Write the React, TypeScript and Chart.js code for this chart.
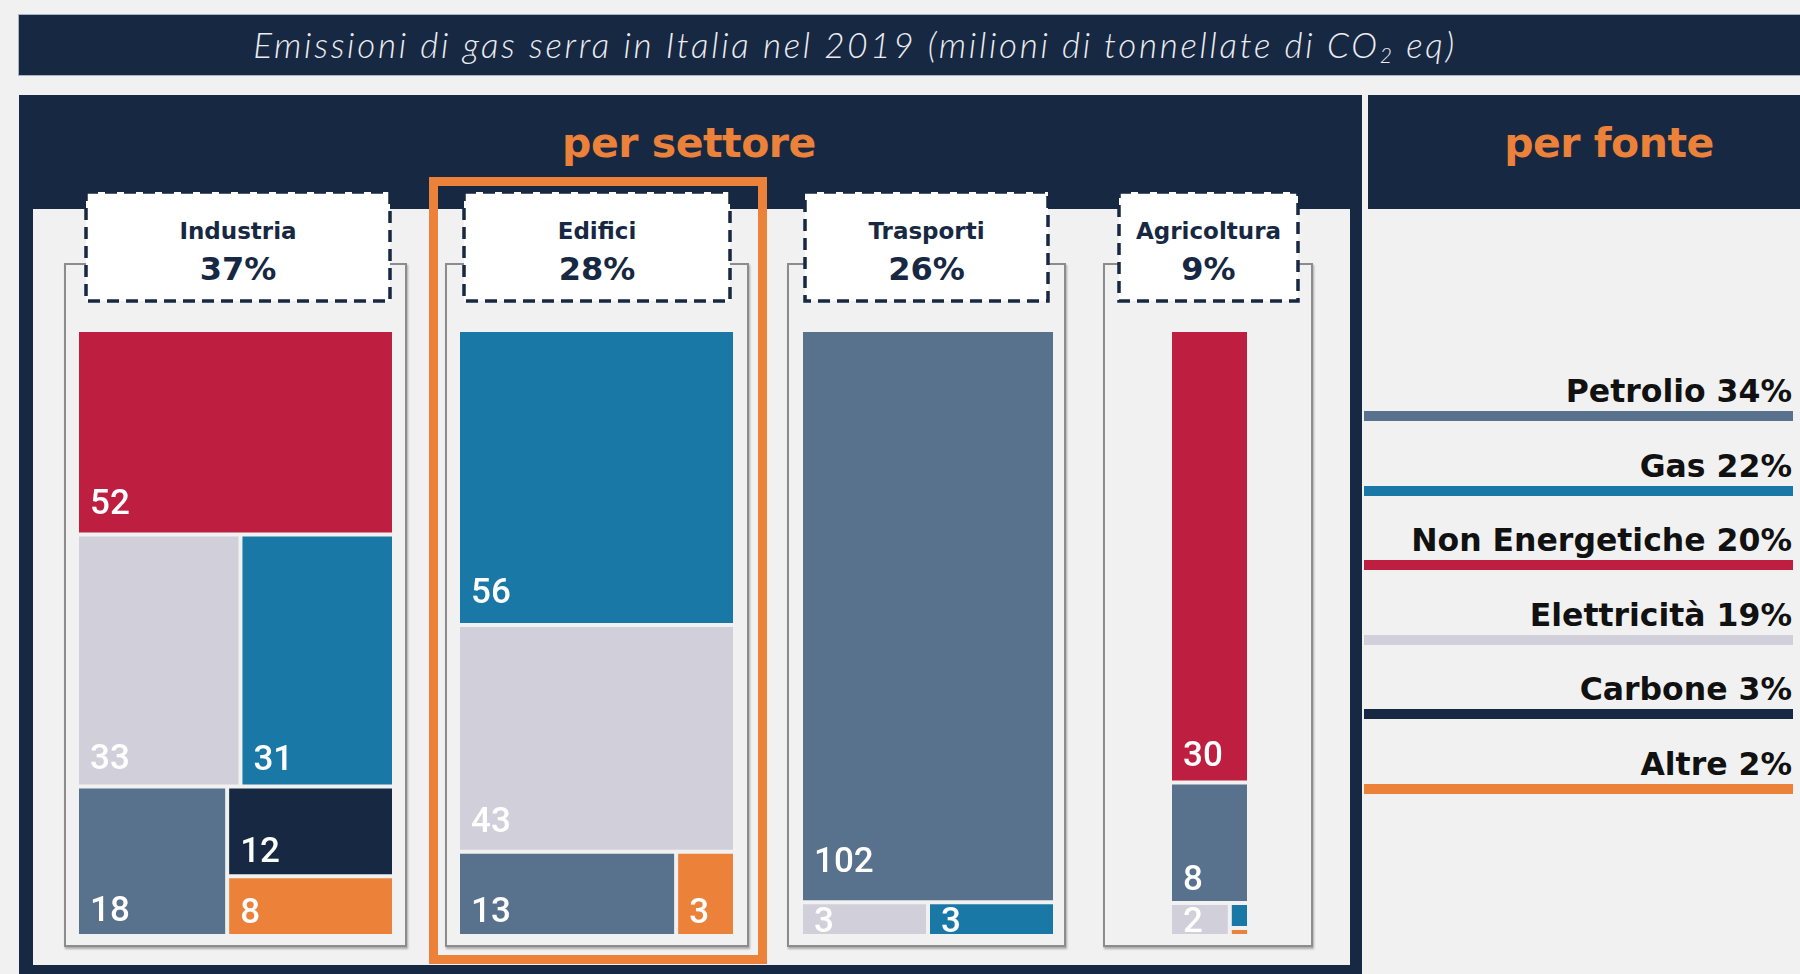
import React, { useEffect, useRef } from 'react';
import { Chart, registerables, BarController } from 'chart.js';

Chart.register(...registerables);

// ---------------- DATA ----------------
const TITLE_MAIN = 'Emissioni di gas serra in Italia nel 2019 (milioni di tonnellate di CO';
const TITLE_SUB = '2';
const TITLE_END = ' eq)';
const HEADER_LEFT = 'per settore';
const HEADER_RIGHT = 'per fonte';

const SOURCE_NAMES = ['Petrolio', 'Gas', 'Non Energetiche', 'Elettricità', 'Carbone', 'Altre'];
const SOURCE_SHARES = [34, 22, 20, 19, 3, 2];

const SECTOR_NAMES = ['Industria', 'Edifici', 'Trasporti', 'Agricoltura'];
const SECTOR_SHARES = [37, 28, 26, 9];

const INDUSTRIA_VALUES = [52, 33, 31, 18, 12, 8];
const INDUSTRIA_SOURCES = ['Non Energetiche', 'Elettricità', 'Gas', 'Petrolio', 'Carbone', 'Altre'];

const EDIFICI_VALUES = [56, 43, 12.6, 3.4];
const EDIFICI_SOURCES = ['Gas', 'Elettricità', 'Petrolio', 'Altre'];

const TRASPORTI_VALUES = [102, 3, 3];
const TRASPORTI_SOURCES = ['Petrolio', 'Elettricità', 'Gas'];

const AGRICOLTURA_VALUES = [30, 8, 1.65, 0.4, 0.13];
const AGRICOLTURA_SOURCES = ['Non Energetiche', 'Petrolio', 'Elettricità', 'Gas', 'Altre'];

// treemap nesting (structure only: rows stacked, then columns side by side, alternating)
const INDUSTRIA_TREE = [0, [1, 2], [3, [4, 5]]];
const EDIFICI_TREE = [0, 1, [2, 3]];
const TRASPORTI_TREE = [0, [1, 2]];
const AGRICOLTURA_TREE = [0, 1, [2, [3, 4]]];

// ---------------- STYLE ----------------
const BG = '#f1f1f1';
const NAVY = '#172843';
const ORANGE = '#ec823a';
const SOURCE_COLORS: Record<string, string> = {
  Petrolio: '#58718c',
  Gas: '#1a78a6',
  'Non Energetiche': '#be1e40',
  'Elettricità': '#d0cfda',
  Carbone: '#172843',
  Altre: '#ec823a',
};
const BORDER = 2;

// panel geometry [left, top, right, bottom]
const PANELS = [
  { frame: [64, 263, 407, 947], tag: [86, 192, 390, 301], plot: [77, 330, 394, 936] },
  { frame: [445, 263, 749, 947], tag: [464, 192, 730, 301], plot: [458, 330, 735, 936] },
  { frame: [787, 263, 1066, 947], tag: [805, 192, 1048, 301], plot: [801, 330, 1055, 936] },
  { frame: [1103, 263, 1313, 947], tag: [1119, 192, 1298, 301], plot: [1170, 330, 1249, 936] },
];

// ---------------- TREEMAP CONTROLLER ----------------
type TreeNode = number | TreeNode[];

function nodeSum(node: TreeNode, values: number[]): number {
  return typeof node === 'number' ? values[node] : node.reduce((s: number, n) => s + nodeSum(n, values), 0);
}

function sliceDice(node: TreeNode, values: number[], x0: number, x1: number, y0: number, y1: number, vertical: boolean, out: any[]) {
  if (typeof node === 'number') {
    out[node] = { x0, x1, y0, y1 };
    return;
  }
  const sums = node.map((n) => nodeSum(n, values));
  const total = sums.reduce((a, b) => a + b, 0);
  let pos = vertical ? y0 : x0;
  node.forEach((child, k) => {
    const span = ((vertical ? y1 - y0 : x1 - x0) * sums[k]) / total;
    if (vertical) sliceDice(child, values, x0, x1, pos, pos + span, false, out);
    else sliceDice(child, values, pos, pos + span, y0, y1, true, out);
    pos += span;
  });
}

class TreemapController extends (BarController as any) {
  static id = 'slicetree';
  updateElements(rects: any[], start: number, count: number, mode: any) {
    const meta = (this as any)._cachedMeta;
    const xScale = meta.xScale;
    const yScale = meta.yScale;
    const ds = (this as any).getDataset();
    const values: number[] = ds.data;
    const total = values.reduce((a, b) => a + b, 0);
    const cells: any[] = [];
    sliceDice(ds.tree, values, 0, 1, 0, total, true, cells);
    for (let i = start; i < start + count; i++) {
      const c = cells[i];
      const left = xScale.getPixelForValue(c.x0);
      const right = xScale.getPixelForValue(c.x1);
      const top = yScale.getPixelForValue(c.y0);
      const bottom = yScale.getPixelForValue(c.y1);
      (this as any).updateElement(
        rects[i],
        i,
        {
          horizontal: false,
          x: (left + right) / 2,
          y: Math.min(top, bottom),
          base: Math.max(top, bottom),
          width: Math.abs(right - left),
          height: Math.abs(bottom - top),
          inflateAmount: 0,
          borderSkipped: {},
          options: (this as any).resolveDataElementOptions(i, mode),
        },
        mode
      );
    }
  }
}
Chart.register(TreemapController as any);

const cellLabelPlugin = {
  id: 'cellLabels',
  afterDatasetsDraw(chart: any) {
    const ctx = chart.ctx;
    chart.data.datasets.forEach((ds: any, di: number) => {
      const meta = chart.getDatasetMeta(di);
      meta.data.forEach((el: any, i: number) => {
        const left = el.x - el.width / 2 + BORDER;
        const w = el.width - 2 * BORDER;
        const top = el.y + BORDER;
        const bottom = el.base - BORDER;
        const h = bottom - top;
        if (w < 30 || h < 22) return;
        const cap = 25;
        const pad = Math.min(10 + 0.00013 * w * h, Math.max(0, (h - cap) / 2));
        ctx.save();
        ctx.font = '500 35px Roboto';
        ctx.fillStyle = '#ffffff';
        ctx.textBaseline = 'alphabetic';
        ctx.textAlign = 'left';
        ctx.fillText(String(Math.round(ds.data[i])), left + 11, bottom - pad);
        ctx.restore();
      });
    });
  },
};

function TreemapCanvas({ values, sources, tree, plot }: { values: number[]; sources: string[]; tree: TreeNode[]; plot: number[] }) {
  const ref = useRef<HTMLCanvasElement>(null);
  const w = plot[2] - plot[0];
  const h = plot[3] - plot[1];
  useEffect(() => {
    const canvas = ref.current;
    if (!canvas) return;
    const total = values.reduce((a, b) => a + b, 0);
    const chart = new Chart(canvas as any, {
      type: 'slicetree' as any,
      data: {
        labels: values.map((_, i) => i),
        datasets: [
          {
            data: values,
            tree,
            backgroundColor: sources.map((s) => SOURCE_COLORS[s]),
            borderColor: BG,
            borderWidth: BORDER,
            borderSkipped: false,
            inflateAmount: 0,
          } as any,
        ],
      },
      options: {
        animation: false,
        responsive: false,
        maintainAspectRatio: false,
        events: [],
        layout: { padding: 0 },
        plugins: { legend: { display: false }, tooltip: { enabled: false }, title: { display: false } },
        scales: {
          x: { type: 'linear', display: false, min: 0, max: 1, offset: false, grid: { offset: false } },
          y: { type: 'linear', display: false, min: 0, max: total, reverse: true },
        },
      } as any,
      plugins: [cellLabelPlugin],
    });
    return () => chart.destroy();
  }, []);
  return (
    <canvas
      ref={ref}
      width={w}
      height={h}
      style={{ position: 'absolute', left: plot[0], top: plot[1], width: w, height: h }}
    />
  );
}

const ALL_VALUES = [INDUSTRIA_VALUES, EDIFICI_VALUES, TRASPORTI_VALUES, AGRICOLTURA_VALUES];
const ALL_SOURCES = [INDUSTRIA_SOURCES, EDIFICI_SOURCES, TRASPORTI_SOURCES, AGRICOLTURA_SOURCES];
const ALL_TREES = [INDUSTRIA_TREE, EDIFICI_TREE, TRASPORTI_TREE, AGRICOLTURA_TREE];

const abs = (l: number, t: number, w: number, h: number): React.CSSProperties => ({
  position: 'absolute',
  left: l,
  top: t,
  width: w,
  height: h,
});

export default function App() {
  return (
    <div style={{ ...abs(0, 0, 1800, 974), background: BG, overflow: 'hidden', fontFamily: '"Open Sans", sans-serif' }}>
      {/* title bar */}
      <div style={{ ...abs(19, 15, 1781, 60), background: NAVY, boxShadow: '0 0 0 1px #aab3c0' }} />
      <div
        style={{
          ...abs(0, 14, 1710, 60),
          lineHeight: '60px',
          textAlign: 'center',
          color: '#ececf0',
          fontStyle: 'italic',
          fontWeight: 300,
          fontSize: 35,
          letterSpacing: 2.7,
          fontFamily: 'Lato, "Open Sans", sans-serif',
          whiteSpace: 'nowrap',
        }}
      >
        {TITLE_MAIN}
        <sub style={{ fontSize: '60%', verticalAlign: '-0.25em' }}>{TITLE_SUB}</sub>
        {TITLE_END}
      </div>

      {/* left dark panel */}
      <div style={{ ...abs(19, 95, 1343, 879), background: NAVY }} />
      <div style={{ ...abs(33, 209, 1317, 756), background: BG }} />
      {/* right header */}
      <div style={{ ...abs(1368, 95, 432, 114), background: NAVY }} />

      <div
        style={{
          ...abs(19, 113, 1340, 60),
          textAlign: 'center',
          color: ORANGE,
          fontFamily: '"DejaVu Sans", sans-serif',
          fontWeight: 700,
          fontSize: 41,
          letterSpacing: -0.5,
          lineHeight: '60px',
        }}
      >
        {HEADER_LEFT}
      </div>
      <div
        style={{
          ...abs(1409, 113, 400, 60),
          textAlign: 'center',
          color: ORANGE,
          fontFamily: '"DejaVu Sans", sans-serif',
          fontWeight: 700,
          fontSize: 41,
          letterSpacing: -0.5,
          lineHeight: '60px',
        }}
      >
        {HEADER_RIGHT}
      </div>

      {/* sector frames */}
      {PANELS.map((p, i) => (
        <div
          key={'f' + i}
          style={{
            ...abs(p.frame[0], p.frame[1], p.frame[2] - p.frame[0], p.frame[3] - p.frame[1]),
            boxSizing: 'border-box',
            border: '2px solid #8c8c8c',
            boxShadow: '1px 2px 2px rgba(0,0,0,0.3)',
          }}
        />
      ))}

      {/* treemaps */}
      {PANELS.map((p, i) => (
        <TreemapCanvas key={'t' + i} values={ALL_VALUES[i]} sources={ALL_SOURCES[i]} tree={ALL_TREES[i]} plot={p.plot} />
      ))}

      {/* dashed tags */}
      {PANELS.map((p, i) => {
        const [l, t, r, b] = p.tag;
        const w = r - l;
        const h = b - t;
        return (
          <div key={'g' + i} style={abs(l - 3, t - 3, w + 6, h + 6)}>
            <svg width={w + 6} height={h + 6} style={{ position: 'absolute', left: 0, top: 0 }}>
              <rect x={3} y={3} width={w} height={h} fill="#ffffff" stroke={NAVY} strokeWidth={3.5} strokeDasharray="12 7" />
            </svg>
            <div
              style={{
                ...abs(0, 27, w + 6, 30),
                textAlign: 'center',
                color: NAVY,
                fontFamily: '"DejaVu Sans", sans-serif',
                fontWeight: 700,
                fontSize: 23,
                lineHeight: '30px',
              }}
            >
              {SECTOR_NAMES[i]}
            </div>
            <div
              style={{
                ...abs(0, 60, w + 6, 40),
                textAlign: 'center',
                color: NAVY,
                fontFamily: '"DejaVu Sans", sans-serif',
                fontWeight: 700,
                fontSize: 32,
                lineHeight: '40px',
              }}
            >
              {SECTOR_SHARES[i]}%
            </div>
          </div>
        );
      })}

      {/* highlight */}
      <div style={{ ...abs(429, 177, 338, 787), boxSizing: 'border-box', border: `9px solid ${ORANGE}` }} />

      {/* per fonte legend */}
      {SOURCE_NAMES.map((name, i) => {
        const cy = 416 + i * 74.6;
        return (
          <React.Fragment key={'l' + i}>
            <div
              style={{
                ...abs(1364, cy - 45, 428, 40),
                textAlign: 'right',
                color: '#111111',
                fontFamily: '"DejaVu Sans", sans-serif',
                fontWeight: 700,
                fontSize: 31.5,
                lineHeight: '40px',
                whiteSpace: 'nowrap',
              }}
            >
              {name} {SOURCE_SHARES[i]}%
            </div>
            <div style={{ ...abs(1364, cy - 5, 429, 10), background: SOURCE_COLORS[name] }} />
          </React.Fragment>
        );
      })}
    </div>
  );
}
